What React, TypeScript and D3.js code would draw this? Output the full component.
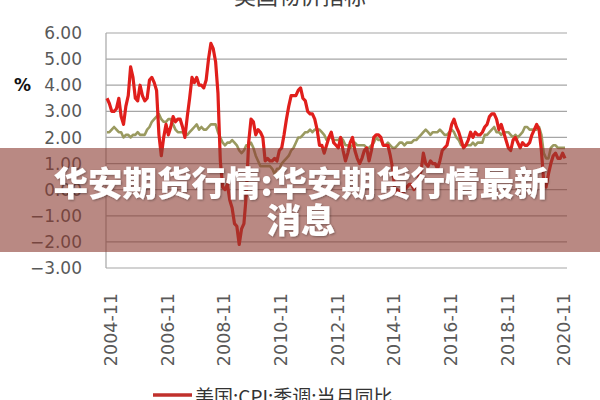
import React from "react";
import * as d3 from "d3";

const title = "美国物价指标";
const yUnit = "%";
const legendLabel = "美国:CPI:季调:当月同比";
const bannerLine1 = "华安期货行情:华安期货行情最新";
const bannerLine2 = "消息";

// monthly categories 2004-11 .. 2021-01
const months: Date[] = d3.timeMonth.range(new Date(2004, 10, 1), new Date(2021, 1, 1));
const fmt = d3.timeFormat("%Y-%m");
const xTickLabels = ["2004-11", "2006-11", "2008-11", "2010-11", "2012-11", "2014-11", "2016-11", "2018-11", "2020-11"];
const yTicks = [6, 5, 4, 3, 2, 1, 0, -1, -2, -3];

const cpi = [
  3.5, 3.3,
  3.0, 3.0, 3.1, 3.5, 2.8, 2.5, 3.2, 3.6, 4.7, 4.3, 3.5, 3.4,
  4.0, 3.6, 3.4, 3.5, 4.2, 4.3, 4.1, 3.8, 2.1, 1.3, 2.0, 2.5,
  2.1, 2.4, 2.8, 2.6, 2.7, 2.7, 2.4, 2.0, 2.8, 3.5, 4.3, 4.1,
  4.3, 4.0, 4.0, 3.9, 4.2, 5.0, 5.6, 5.4, 4.9, 3.7, 1.1, 0.1,
  0.0, 0.2, -0.4, -0.7, -1.3, -1.4, -2.1, -1.5, -1.3, -0.2, 1.8, 2.7,
  2.6, 2.1, 2.3, 2.2, 2.0, 1.1, 1.2, 1.1, 1.1, 1.2, 1.1, 1.5,
  1.6, 2.1, 2.7, 3.2, 3.6, 3.6, 3.6, 3.8, 3.9, 3.5, 3.4, 3.0,
  2.9, 2.9, 2.7, 2.3, 1.7, 1.7, 1.4, 1.7, 2.0, 2.2, 1.8, 1.7,
  1.6, 2.0, 1.5, 1.1, 1.4, 1.8, 2.0, 1.5, 1.2, 1.0, 1.2, 1.5,
  1.6, 1.1, 1.5, 2.0, 2.1, 2.1, 2.0, 1.7, 1.7, 1.7, 1.3, 0.8,
  -0.1, 0.0, -0.1, -0.2, 0.0, 0.1, 0.2, 0.2, 0.0, 0.2, 0.5, 0.7,
  1.4, 1.0, 0.9, 1.1, 1.0, 1.0, 0.8, 1.1, 1.5, 1.6, 1.7, 2.1,
  2.5, 2.7, 2.4, 2.2, 1.9, 1.6, 1.7, 1.9, 2.2, 2.0, 2.2, 2.1,
  2.1, 2.2, 2.4, 2.5, 2.8, 2.9, 2.9, 2.7, 2.3, 2.5, 2.2, 1.9,
  1.6, 1.5, 1.9, 2.0, 1.8, 1.6, 1.8, 1.7, 1.7, 1.8, 2.1, 2.3,
  2.5, 2.3, 1.5, 0.3, 0.1, 0.6, 1.0, 1.3, 1.4, 1.2, 1.2, 1.4,
  1.2,
];

const coreCpi = [
  2.2, 2.2,
  2.3, 2.4, 2.3, 2.2, 2.2, 2.0, 2.1, 2.1, 2.0, 2.1, 2.1, 2.2,
  2.1, 2.1, 2.1, 2.3, 2.4, 2.6, 2.7, 2.8, 2.9, 2.7, 2.6, 2.6,
  2.7, 2.7, 2.5, 2.3, 2.2, 2.2, 2.2, 2.1, 2.1, 2.2, 2.3, 2.4,
  2.5, 2.3, 2.4, 2.3, 2.3, 2.4, 2.5, 2.5, 2.5, 2.2, 2.0, 1.8,
  1.7, 1.8, 1.8, 1.9, 1.8, 1.7, 1.5, 1.4, 1.5, 1.7, 1.7, 1.8,
  1.6, 1.3, 1.1, 0.9, 0.9, 0.9, 0.9, 0.9, 0.8, 0.6, 0.8, 0.8,
  1.0, 1.1, 1.2, 1.3, 1.5, 1.6, 1.8, 2.0, 2.0, 2.1, 2.2, 2.2,
  2.3, 2.2, 2.3, 2.3, 2.3, 2.2, 2.1, 1.9, 2.0, 2.0, 1.9, 1.9,
  1.9, 2.0, 1.9, 1.7, 1.7, 1.6, 1.7, 1.8, 1.7, 1.7, 1.7, 1.7,
  1.6, 1.6, 1.7, 1.8, 2.0, 1.9, 1.9, 1.7, 1.7, 1.8, 1.7, 1.6,
  1.6, 1.7, 1.8, 1.8, 1.7, 1.8, 1.8, 1.8, 1.9, 1.9, 2.0, 2.1,
  2.2, 2.3, 2.2, 2.1, 2.2, 2.2, 2.2, 2.3, 2.2, 2.1, 2.1, 2.2,
  2.3, 2.2, 2.0, 1.9, 1.7, 1.7, 1.7, 1.7, 1.7, 1.8, 1.7, 1.8,
  1.8, 1.8, 2.1, 2.1, 2.2, 2.3, 2.4, 2.2, 2.2, 2.1, 2.2, 2.2,
  2.2, 2.1, 2.0, 2.1, 2.0, 2.1, 2.2, 2.4, 2.4, 2.3, 2.3, 2.3,
  2.3, 2.4, 2.1, 1.4, 1.2, 1.2, 1.6, 1.7, 1.7, 1.6, 1.6, 1.6,
  1.6,
];

const W = 600;
const H = 400;
const plotLeft = 106;
const plotRight = 567;
const tickFont = "'DejaVu Sans', sans-serif";
const cjkFont = "'Noto Sans CJK SC', sans-serif";

export default function App() {
  const x = d3.scaleLinear().domain([0, months.length - 1]).range([107, 565]);
  const y = d3.scaleLinear().domain([-3, 6]).range([268, 33]);
  const labels = months.map((m) => fmt(m));

  const line = d3
    .line<number>()
    .x((_, i) => x(i))
    .y((d) => y(d))
    .curve(d3.curveLinear);

  return (
    <svg
      width={W}
      height={H}
      viewBox={`0 0 ${W} ${H}`}
      style={{ position: "absolute", left: 0, top: 0, background: "#fff" }}
    >
      <defs>
        <filter id="shadow" x="-10%" y="-30%" width="120%" height="160%">
          <feDropShadow dx="1" dy="1" stdDeviation="1" floodColor="#000" floodOpacity="0.35" />
        </filter>
      </defs>
      <rect x={0} y={0} width={W} height={H} fill="#fff" />
      <text x={300} y={4} textAnchor="middle" fontFamily={cjkFont} fontSize={22} fill="#404040">
        {title}
      </text>

      {/* gridlines */}
      {yTicks.map((t) => (
        <line key={t} x1={plotLeft} x2={plotRight} y1={y(t)} y2={y(t)} stroke="#a6a6a6" strokeWidth={1.2} />
      ))}
      <line x1={plotLeft} x2={plotLeft} y1={y(6)} y2={y(-3)} stroke="#a6a6a6" strokeWidth={1.2} />

      {/* y tick labels */}
      {yTicks.map((t) => (
        <text
          key={"l" + t}
          x={82}
          y={y(t)}
          dy="0.36em"
          textAnchor="end"
          fontFamily={tickFont}
          fontSize={17}
          fill="#595959"
        >
          {d3.format(".2f")(t)}
        </text>
      ))}
      <text x={14} y={85} dy="0.36em" fontFamily={tickFont} fontWeight="bold" fontSize={17} fill="#111">
        {yUnit}
      </text>

      {/* x tick labels */}
      {xTickLabels.map((lab) => {
        const i = labels.indexOf(lab);
        const px = x(i) + 10;
        return (
          <text
            key={lab}
            transform={`translate(${px},293) rotate(-90)`}
            textAnchor="end"
            fontFamily={tickFont}
            fontSize={17.5}
            fill="#595959"
          >
            {lab}
          </text>
        );
      })}

      {/* series */}
      <path d={line(coreCpi) || ""} fill="none" stroke="#9a9a60" strokeWidth={2.6} strokeLinejoin="round" />
      <path d={line(cpi) || ""} fill="none" stroke="#e01f1c" strokeWidth={3.2} strokeLinejoin="round" />

      {/* legend */}
      <line x1={153} x2={192} y1={395} y2={395} stroke="#c0302c" strokeWidth={3.5} />
      <text x={195} y={404} fontFamily={cjkFont} fontSize={19} fill="#333">
        {legendLabel}
      </text>

      {/* overlay banner */}
      <rect x={0} y={148} width={W} height={104} fill="#8b3a30" fillOpacity={0.6} />
      <g filter="url(#shadow)">
        <text
          x={301}
          y={184}
          dy="0.35em"
          textAnchor="middle"
          fontFamily={cjkFont}
          fontWeight={900}
          fontSize={34.5}
          fill="#fff"
        >
          {bannerLine1}
        </text>
        <text
          x={301}
          y={221}
          dy="0.35em"
          textAnchor="middle"
          fontFamily={cjkFont}
          fontWeight={900}
          fontSize={34.5}
          fill="#fff"
        >
          {bannerLine2}
        </text>
      </g>
    </svg>
  );
}
